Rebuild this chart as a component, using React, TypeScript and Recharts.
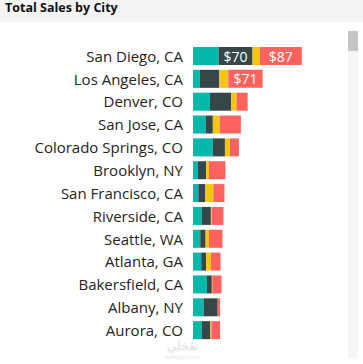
import { BarChart, Bar, XAxis, YAxis, LabelList } from "recharts";

const cities = [
  "San Diego, CA",
  "Los Angeles, CA",
  "Denver, CO",
  "San Jose, CA",
  "Colorado Springs, CO",
  "Brooklyn, NY",
  "San Francisco, CA",
  "Riverside, CA",
  "Seattle, WA",
  "Atlanta, GA",
  "Bakersfield, CA",
  "Albany, NY",
  "Aurora, CO",
];

// sales per segment, in $K
const segmentA = [53, 14, 35, 26, 41, 10, 11, 18, 15, 17, 29, 22, 18];
const segmentB = [70, 40, 44, 15, 25, 17, 14, 19, 11, 10, 10, 29, 18];
const segmentC = [15, 19, 11, 14, 10, 6, 17, 2, 7, 10, 1, 0, 2];
const segmentD = [87, 71, 23, 44, 19, 34, 23, 24, 28, 20, 19, 5, 18];

const data = cities.map((city, i) => ({
  city,
  a: segmentA[i],
  b: segmentB[i],
  c: segmentC[i],
  d: segmentD[i],
}));

const FONT = "'Segoe UI', 'Open Sans', sans-serif";

function renderValue(props: any) {
  const { x, y, width, height, value } = props;
  if (!value || width < 30) return null;
  return (
    <text
      x={x + width / 2}
      y={y + height / 2}
      fill="#ffffff"
      fontSize={14}
      fontFamily={FONT}
      textAnchor="middle"
      dominantBaseline="central"
    >
      ${value}
    </text>
  );
}

export default function App() {
  return (
    <div
      style={{
        position: "absolute",
        left: 0,
        top: 0,
        width: 363,
        height: 364,
        background: "#ffffff",
        overflow: "hidden",
        fontFamily: FONT,
      }}
    >
      <div
        style={{
          height: 22,
          background: "#f4f4f4",
          color: "#111",
          fontWeight: 700,
          fontSize: 12.5,
          lineHeight: "16px",
          paddingLeft: 5,
        }}
      >
        Total Sales by City
      </div>
      <div style={{ position: "absolute", left: 0, top: 0 }}>
        <BarChart
          layout="vertical"
          width={345}
          height={364}
          data={data}
          margin={{ top: 45, right: 5, bottom: 22, left: 0 }}
          barCategoryGap={0}
        >
          <XAxis type="number" domain={[0, 304]} hide />
          <YAxis
            type="category"
            dataKey="city"
            width={193}
            axisLine={false}
            tickLine={false}
            tickSize={0}
            tickMargin={10}
            interval={0}
            tick={{ fill: "#252423", fontSize: 15, fontFamily: FONT }}
          />
          <Bar dataKey="a" stackId="s" fill="#01B8AA" barSize={18} isAnimationActive={false}>
            <LabelList dataKey="a" content={renderValue} />
          </Bar>
          <Bar dataKey="b" stackId="s" fill="#374649" barSize={18} isAnimationActive={false}>
            <LabelList dataKey="b" content={renderValue} />
          </Bar>
          <Bar dataKey="c" stackId="s" fill="#F2C80F" barSize={18} isAnimationActive={false}>
            <LabelList dataKey="c" content={renderValue} />
          </Bar>
          <Bar dataKey="d" stackId="s" fill="#FD625E" barSize={18} isAnimationActive={false}>
            <LabelList dataKey="d" content={renderValue} />
          </Bar>
        </BarChart>
      </div>
      <div
        style={{
          position: "absolute",
          left: 348,
          top: 31,
          width: 10,
          height: 327,
          background: "#f6f6f6",
        }}
      >
        <div style={{ height: 20, background: "#c5c5c5" }} />
      </div>
      <div
        style={{
          position: "absolute",
          left: 160,
          top: 338,
          width: 44,
          textAlign: "center",
          color: "#e6e6e6",
          fontFamily: "'Noto Sans', sans-serif",
        }}
      >
        <div style={{ fontSize: 12, fontWeight: 700, lineHeight: "16px" }}>نفخلي</div>
        <div style={{ fontSize: 6, lineHeight: "7px" }}>nafkhly.com</div>
      </div>
    </div>
  );
}
